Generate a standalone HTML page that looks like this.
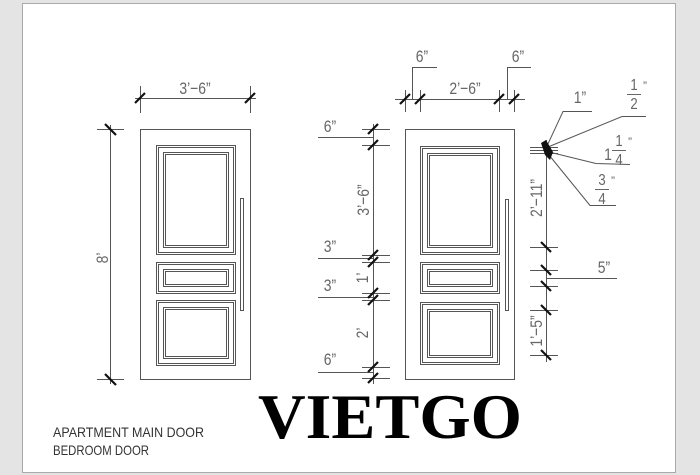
<!DOCTYPE html>
<html><head><meta charset="utf-8"><style>
html,body{margin:0;padding:0;background:#e6e6e6;}
svg{display:block}
.t{font-family:"Liberation Sans",sans-serif;fill:#666;font-size:17px;}
</style></head><body>
<svg width="700" height="475" viewBox="0 0 700 475" xmlns="http://www.w3.org/2000/svg">
<rect x="0" y="0" width="700" height="475" fill="#e4e4e4"/>
<rect x="22.5" y="3.5" width="653" height="469" fill="#fff" stroke="#aaa"/>
<g fill="none" stroke="#555" stroke-width="1">
<rect x="140.5" y="129.5" width="110" height="250"/>
<rect x="156.5" y="145.5" width="79" height="109"/>
<rect x="158.5" y="147.5" width="75" height="105"/>
<rect x="163.5" y="152.5" width="65" height="95"/>
<rect x="165.5" y="154.5" width="61" height="91"/>
<rect x="156.5" y="262.5" width="79" height="31"/>
<rect x="158.5" y="264.5" width="75" height="27"/>
<rect x="163.5" y="269.5" width="65" height="17"/>
<rect x="165.5" y="271.5" width="61" height="13"/>
<rect x="156.5" y="300.5" width="79" height="65"/>
<rect x="158.5" y="302.5" width="75" height="61"/>
<rect x="163.5" y="307.5" width="65" height="51"/>
<rect x="165.5" y="309.5" width="61" height="47"/>
<rect x="240.5" y="198.5" width="3" height="112"/>
<line x1="135" y1="98.5" x2="256" y2="98.5"/>
<line x1="140.5" y1="86" x2="140.5" y2="113"/>
<line x1="250.5" y1="86" x2="250.5" y2="113"/>
<line x1="110.5" y1="125" x2="110.5" y2="384"/>
<line x1="97" y1="129.5" x2="124" y2="129.5"/>
<line x1="97" y1="379.5" x2="124" y2="379.5"/>
<line x1="373.5" y1="124" x2="373.5" y2="384"/>
<line x1="318" y1="137.5" x2="373" y2="137.5"/>
<line x1="318" y1="258.5" x2="373" y2="258.5"/>
<line x1="318" y1="297.5" x2="373" y2="297.5"/>
<line x1="318" y1="372.5" x2="373" y2="372.5"/>
<line x1="362" y1="129.5" x2="390" y2="129.5"/>
<line x1="362" y1="145.5" x2="390" y2="145.5"/>
<line x1="362" y1="255.5" x2="390" y2="255.5"/>
<line x1="362" y1="262.5" x2="390" y2="262.5"/>
<line x1="362" y1="293.5" x2="390" y2="293.5"/>
<line x1="362" y1="300.5" x2="390" y2="300.5"/>
<line x1="362" y1="367.5" x2="390" y2="367.5"/>
<line x1="362" y1="378.5" x2="390" y2="378.5"/>
<rect x="405.5" y="129.5" width="109" height="250"/>
<rect x="420.5" y="146.5" width="79" height="108"/>
<rect x="422.5" y="148.5" width="75" height="104"/>
<rect x="427.5" y="153.5" width="65" height="94"/>
<rect x="429.5" y="155.5" width="61" height="90"/>
<rect x="420.5" y="262.5" width="79" height="31"/>
<rect x="422.5" y="264.5" width="75" height="27"/>
<rect x="427.5" y="269.5" width="65" height="17"/>
<rect x="429.5" y="271.5" width="61" height="13"/>
<rect x="420.5" y="302.5" width="79" height="62"/>
<rect x="422.5" y="304.5" width="75" height="58"/>
<rect x="427.5" y="309.5" width="65" height="48"/>
<rect x="429.5" y="311.5" width="61" height="44"/>
<rect x="505.5" y="199.5" width="3" height="111"/>
<line x1="395" y1="99.5" x2="525" y2="99.5"/>
<line x1="405.5" y1="90" x2="405.5" y2="112"/>
<line x1="420.5" y1="90" x2="420.5" y2="112"/>
<line x1="499.5" y1="90" x2="499.5" y2="112"/>
<line x1="514.5" y1="90" x2="514.5" y2="112"/>
<polyline points="412.5,99 412.5,67.5 437,67.5"/>
<polyline points="507.5,99 507.5,67.5 531,67.5"/>
<line x1="546.5" y1="140" x2="546.5" y2="362"/>
<line x1="530" y1="147.5" x2="558" y2="147.5"/>
<line x1="530" y1="150.5" x2="558" y2="150.5"/>
<line x1="530" y1="153.5" x2="558" y2="153.5"/>
<line x1="530" y1="247.5" x2="558" y2="247.5"/>
<line x1="530" y1="270.5" x2="558" y2="270.5"/>
<line x1="530" y1="286.5" x2="558" y2="286.5"/>
<line x1="530" y1="310.5" x2="558" y2="310.5"/>
<line x1="530" y1="355.5" x2="558" y2="355.5"/>
<line x1="546" y1="278.5" x2="617" y2="278.5"/>
<polyline points="547,146 563,111.5 592,111.5"/>
<polyline points="548,147 622,116.5 646,116.5"/>
<polyline points="549,152 596,163.5 630,164.5"/>
<polyline points="549,155 590,205.5 616,205.5"/>
</g>
<g stroke="#111" stroke-width="2.2">
<line x1="135" y1="103" x2="145" y2="93"/>
<line x1="245" y1="103" x2="255" y2="93"/>
<line x1="105" y1="124" x2="116" y2="135"/>
<line x1="105" y1="374" x2="116" y2="385"/>
<line x1="368" y1="134" x2="378" y2="124"/>
<line x1="368" y1="150" x2="378" y2="140"/>
<line x1="368" y1="260" x2="378" y2="250"/>
<line x1="368" y1="267" x2="378" y2="257"/>
<line x1="368" y1="298" x2="378" y2="288"/>
<line x1="368" y1="305" x2="378" y2="295"/>
<line x1="368" y1="372" x2="378" y2="362"/>
<line x1="368" y1="383" x2="378" y2="373"/>
<line x1="400" y1="104" x2="410" y2="94"/>
<line x1="415" y1="104" x2="425" y2="94"/>
<line x1="494" y1="104" x2="504" y2="94"/>
<line x1="509" y1="104" x2="519" y2="94"/>
<line x1="541" y1="242" x2="551" y2="252"/>
<line x1="541" y1="265" x2="551" y2="275"/>
<line x1="541" y1="281" x2="551" y2="291"/>
<line x1="541" y1="305" x2="551" y2="315"/>
<line x1="541" y1="350" x2="551" y2="360"/>
</g>
<polygon points="541,143 546,140 553,152 550,160 545,155" fill="#111"/>
<g class="t" text-anchor="middle">
<text class="t" transform="translate(195,94) scale(0.82,1)">3’−6”</text>
<text class="t" transform="translate(108,258) rotate(-90) scale(0.82,1)">8’</text>
<text class="t" transform="translate(330,132) scale(0.82,1)">6”</text>
<text class="t" transform="translate(330,252) scale(0.82,1)">3”</text>
<text class="t" transform="translate(330,291) scale(0.82,1)">3”</text>
<text class="t" transform="translate(330,365) scale(0.82,1)">6”</text>
<text class="t" transform="translate(369,200) rotate(-90) scale(0.82,1)">3’−6”</text>
<text class="t" transform="translate(368,278) rotate(-90) scale(0.82,1)">1’</text>
<text class="t" transform="translate(368,333) rotate(-90) scale(0.82,1)">2’</text>
<text class="t" transform="translate(422,62) scale(0.82,1)">6”</text>
<text class="t" transform="translate(518,62) scale(0.82,1)">6”</text>
<text class="t" transform="translate(465,94) scale(0.82,1)">2’−6”</text>
<text class="t" transform="translate(542,198) rotate(-90) scale(0.82,1)">2’−11”</text>
<text class="t" transform="translate(542,331) rotate(-90) scale(0.82,1)">1’−5”</text>
<text class="t" transform="translate(604,273) scale(0.82,1)">5”</text>
<text class="t" transform="translate(580,103) scale(0.82,1)">1”</text>
<text class="t" transform="translate(634,90) scale(0.82,1)" style="font-size:16px">1</text>
<text class="t" transform="translate(634,109) scale(0.82,1)" style="font-size:16px">2</text>
<text class="t" transform="translate(619,146) scale(0.82,1)" style="font-size:16px">1</text>
<text class="t" transform="translate(619,165) scale(0.82,1)" style="font-size:16px">4</text>
<text class="t" transform="translate(608,160) scale(0.82,1)">1</text>
<text class="t" transform="translate(602,185) scale(0.82,1)" style="font-size:16px">3</text>
<text class="t" transform="translate(602,204) scale(0.82,1)" style="font-size:16px">4</text>
</g>
<g stroke="#666">
<line x1="627" y1="94.5" x2="641" y2="94.5"/>
<line x1="612" y1="150.5" x2="626" y2="150.5"/>
<line x1="595" y1="189.5" x2="609" y2="189.5"/>
</g>
<text class="t" x="643" y="90" style="font-size:12px">”</text>
<text class="t" x="628" y="146" style="font-size:12px">”</text>
<text class="t" x="611" y="185" style="font-size:12px">”</text>
<text x="53" y="437" textLength="151" lengthAdjust="spacingAndGlyphs" style="font-family:'Liberation Sans',sans-serif;font-size:14px;fill:#333">APARTMENT MAIN DOOR</text>
<text x="53" y="455" textLength="96" lengthAdjust="spacingAndGlyphs" style="font-family:'Liberation Sans',sans-serif;font-size:14px;fill:#333">BEDROOM DOOR</text>
<text x="258" y="438" textLength="264" lengthAdjust="spacingAndGlyphs" style="font-family:'Liberation Serif',serif;font-weight:bold;font-size:64px;fill:#000">VIETGO</text>
</svg>
</body></html>
